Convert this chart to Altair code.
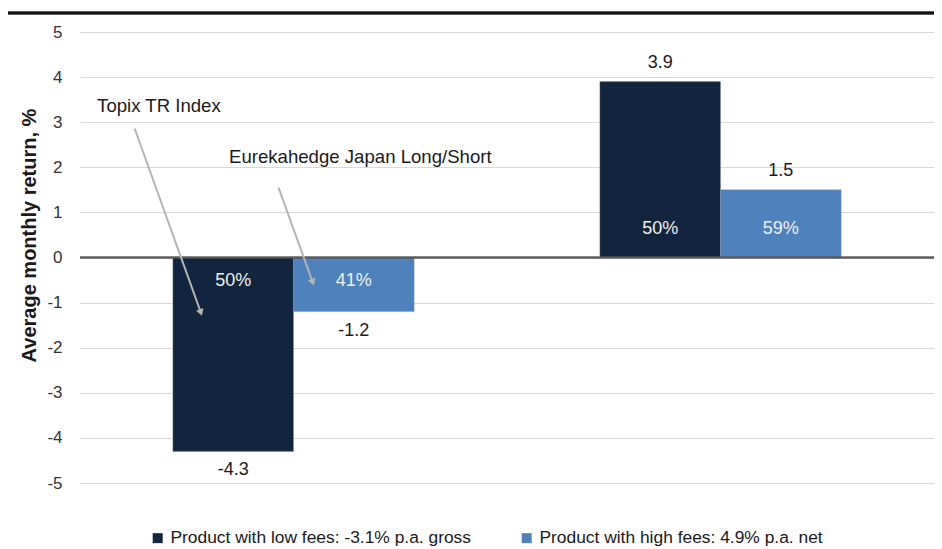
import altair as alt
import pandas as pd

# ---- data ----
groups = ["Down months", "Up months"]
series = [
    "Product with low fees: -3.1% p.a. gross",
    "Product with high fees: 4.9% p.a. net",
]
low_fee_returns = [-4.3, 3.9]
high_fee_returns = [-1.2, 1.5]
low_fee_share = ["50%", "50%"]
high_fee_share = ["41%", "59%"]
colors = ["#12253f", "#4f81bd"]

# annotation texts and arrow anchors (x in group units 0..2, y in data units)
ann_text = ["Topix TR Index", "Eurekahedge Japan Long/Short"]
ann_x = [0.04, 0.349]
ann_y = [3.37, 2.22]
arrow_x = [0.128, 0.465]
arrow_y = [2.86, 1.55]
arrow_x2 = [0.283, 0.545]
arrow_y2 = [-1.22, -0.55]

rows = []
for i, g in enumerate(groups):
    rows.append({"group": g, "series": series[0], "value": low_fee_returns[i], "share": low_fee_share[i]})
    rows.append({"group": g, "series": series[1], "value": high_fee_returns[i], "share": high_fee_share[i]})
df = pd.DataFrame(rows)
df["label"] = [f"{v:.1f}" for v in df["value"]]
ann_df = pd.DataFrame({"x": ann_x, "y": ann_y, "text": ann_text})
arrow_df = pd.DataFrame({"x": arrow_x, "y": arrow_y, "x2": arrow_x2, "y2": arrow_y2})

FONT = "Liberation Sans"
W, H = 854, 451

xband = alt.X("group:N", scale=alt.Scale(domain=groups, paddingInner=0.435, paddingOuter=0.2175), axis=None)
xoff = alt.XOffset("series:N", scale=alt.Scale(domain=series, paddingInner=0, paddingOuter=0))
yscale = alt.Scale(domain=[-5, 5], nice=False, zero=False)

base = alt.Chart(df).encode(x=xband, xOffset=xoff)

bars = base.mark_bar(stroke="#7d8ca3", strokeWidth=0.6, strokeOpacity=0.6).encode(
    y=alt.Y(
        "value:Q",
        scale=yscale,
        axis=alt.Axis(
            values=list(range(-5, 6)),
            labelExpr="toString(datum.value)",
            domain=False,
            ticks=False,
            grid=True,
            gridColor="#d9d9d9",
            gridWidth=1.2,
            labelFontSize=17,
            labelColor="#333333",
            labelPadding=18,
            title="Average monthly return, %",
            titleFontSize=20,
            titleFontWeight="bold",
            titleColor="#1a1a1a",
            titleX=-41,
            titleY=203,
        ),
    ),
    color=alt.Color(
        "series:N",
        scale=alt.Scale(domain=series, range=colors),
        legend=alt.Legend(
            orient="none",
            legendX=69,
            legendY=497,
            direction="horizontal",
            title=None,
            symbolType="square",
            symbolSize=100,
            symbolStrokeWidth=0,
            labelFontSize=17.4,
            labelColor="#1a1a1a",
            labelLimit=600,
            columnPadding=46,
            padding=0,
        ),
    ),
)

val_pos = base.transform_filter("datum.value > 0").mark_text(
    fontSize=18, color="#1a1a1a", dy=-19, baseline="middle"
).encode(y=alt.Y("value:Q", scale=yscale), text="label:N")
val_neg = base.transform_filter("datum.value < 0").mark_text(
    fontSize=18, color="#1a1a1a", dy=19, baseline="middle"
).encode(y=alt.Y("value:Q", scale=yscale), text="label:N")

pct_pos = base.transform_filter("datum.value > 0").mark_text(
    fontSize=18, color="#f0f0f0", dy=-29, baseline="middle"
).encode(y=alt.Y("zero:Q", scale=yscale), text="share:N").transform_calculate(zero="0")
pct_neg = base.transform_filter("datum.value < 0").mark_text(
    fontSize=18, color="#f0f0f0", dy=23, baseline="middle"
).encode(y=alt.Y("zero:Q", scale=yscale), text="share:N").transform_calculate(zero="0")

zero_line = alt.Chart(df).mark_rule(color="#595959", strokeWidth=1.5).encode(y=alt.datum(0, scale=yscale))

ax = alt.Scale(domain=[0, 2], nice=False, zero=False)
ann = alt.Chart(ann_df).mark_text(align="left", baseline="middle", fontSize=18.6, color="#1a1a1a").encode(
    x=alt.X("x:Q", scale=ax, axis=None), y=alt.Y("y:Q", scale=yscale), text="text:N"
)
arrows = alt.Chart(arrow_df).mark_rule(color="#b5b5b5", strokeWidth=2).encode(
    x=alt.X("x:Q", scale=ax, axis=None), x2="x2:Q", y=alt.Y("y:Q", scale=yscale), y2="y2:Q"
)
heads = alt.Chart(arrow_df).mark_point(
    shape="triangle-down", filled=True, size=60, angle=340, color="#b5b5b5", opacity=1
).encode(x=alt.X("x2:Q", scale=ax, axis=None), y=alt.Y("y2:Q", scale=yscale))

top_rule = alt.Chart(df).mark_rule(color="#111111", strokeWidth=2.5).encode(
    x=alt.value(-72), x2=alt.value(W), y=alt.value(-19)
)

chart = (
    alt.layer(bars, zero_line, val_pos, val_neg, pct_pos, pct_neg, arrows, heads, ann, top_rule)
    .resolve_scale(x="independent")
    .properties(
        width=W,
        height=H,
        autosize=alt.AutoSizeParams(type="none"),
        padding={"left": 72, "top": 24, "right": 0, "bottom": 66},
    )
    .configure(font=FONT)
    .configure_view(stroke=None)
)

chart.save("out.html", embed_options={"renderer": "svg", "actions": False})
